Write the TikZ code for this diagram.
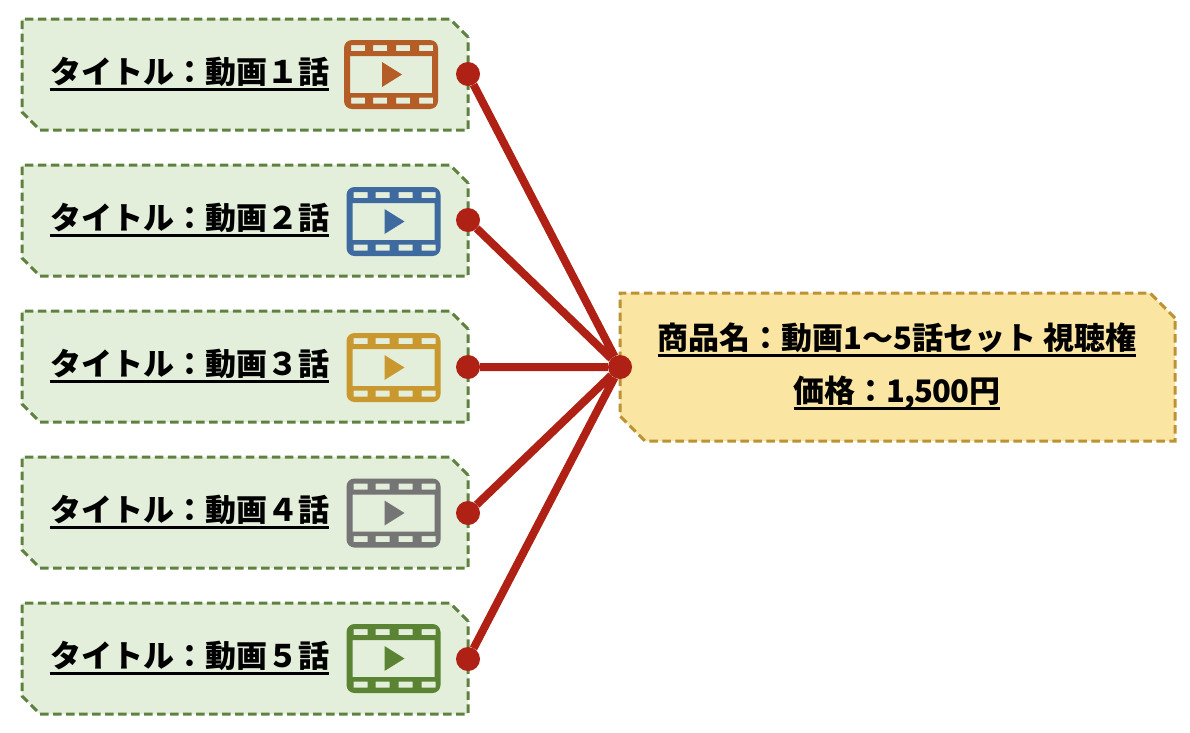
\documentclass[tikz,border=0pt]{standalone}
\usepackage{fontspec}
\setmainfont{Noto Sans CJK JP}
\usetikzlibrary{shapes.misc}
\definecolor{boxgreen}{HTML}{E3EFDA}
\definecolor{linegreen}{HTML}{5F8140}
\definecolor{boxyellow}{HTML}{FBE5A2}
\definecolor{lineyellow}{HTML}{BC9232}
\definecolor{linkred}{HTML}{AE2114}
\definecolor{iconorange}{HTML}{B55D26}
\definecolor{iconblue}{HTML}{3F6AA0}
\definecolor{icongold}{HTML}{C9982F}
\definecolor{icongray}{HTML}{757575}
\definecolor{icongreen}{HTML}{5A8334}
\newsavebox{\titlebox}
\newcommand{\titleline}[1]{\sbox{\titlebox}{#1}\rlap{\rule[-7.5pt]{\wd\titlebox}{3pt}}\usebox{\titlebox}}
\tikzset{
  videobox/.style={shape=chamfered rectangle,chamfered rectangle corners={north east,south west},
    chamfered rectangle xsep=8.5pt,chamfered rectangle ysep=9.5pt,draw=linegreen,fill=boxgreen,
    line width=3pt,dash pattern=on 8.5pt off 4.5pt,inner xsep=214.5pt,inner ysep=46pt,outer sep=0pt},
  setbox/.style={shape=chamfered rectangle,chamfered rectangle corners={north east,south west},
    chamfered rectangle xsep=13pt,chamfered rectangle ysep=12pt,draw=lineyellow,fill=boxyellow,
    line width=3pt,dash pattern=on 8.5pt off 4.5pt,inner xsep=264.5pt,inner ysep=62pt,outer sep=0pt},
  titletext/.style={anchor=base,inner sep=0pt,font=\fontsize{31}{36}\selectfont\bfseries},
  dot/.style={circle,fill=linkred,minimum size=24pt,inner sep=0pt,outer sep=0pt},
  link/.style={draw=linkred,line width=8pt},
  pics/filmicon/.style={code={
    \fill[#1,even odd rule]
      (-47,-34.5) [rounded corners=8pt] rectangle (47,34.5) [sharp corners]
      (-41,-18.5) rectangle (41,18.5)
      (-40,-29.5) rectangle (-26,-23.5) (-18,-29.5) rectangle (-4,-23.5)
      (5,-29.5) rectangle (19,-23.5) (28,-29.5) rectangle (42,-23.5)
      (-40,23) rectangle (-26,29) (-18,23) rectangle (-4,29)
      (5,23) rectangle (19,29) (28,23) rectangle (42,29);
    \fill[#1] (-9,-12.5) -- (11,0) -- (-9,12.5) -- cycle;
  }}
}
\begin{document}
\begin{tikzpicture}[x=1pt,y=-1pt]
  \useasboundingbox (0,0) rectangle (1190,732);
  \draw (245,74.5) node[videobox](v1){};
  \draw (245,220.5) node[videobox](v2){};
  \draw (245,366.5) node[videobox](v3){};
  \draw (245,512.5) node[videobox](v4){};
  \draw (245,658.5) node[videobox](v5){};
  \draw (897.5,367) node[setbox](s){};
  \draw (189.5,83) node[titletext](t1){\titleline{タイトル：動画１話}};
  \draw (189.5,229) node[titletext](t2){\titleline{タイトル：動画２話}};
  \draw (189.5,375) node[titletext](t3){\titleline{タイトル：動画３話}};
  \draw (189.5,521) node[titletext](t4){\titleline{タイトル：動画４話}};
  \draw (189.5,667) node[titletext](t5){\titleline{タイトル：動画５話}};
  \draw (897,349) node[titletext](s1){\titleline{商品名：動画1〜5話セット 視聴権}};
  \draw (897,402) node[titletext](s2){\titleline{価格：\addfontfeature{LetterSpace=-3}1,500\addfontfeature{LetterSpace=0}円}};
  \draw (391,74.5) pic{filmicon=iconorange};
  \draw (393.5,221.5) pic{filmicon=iconblue};
  \draw (393.5,367.5) pic{filmicon=icongold};
  \draw (393.5,513) pic{filmicon=icongray};
  \draw (393.5,658.5) pic{filmicon=icongreen};
  \draw (468,74) node[dot](d1){};
  \draw (468,220) node[dot](d2){};
  \draw (468,367) node[dot](d3){};
  \draw (468,513) node[dot](d4){};
  \draw (468,659) node[dot](d5){};
  \draw (620,367) node[dot](c){};
  \draw[link]
    (d1) -- (c)
    (d2) -- (c)
    (d3) -- (c)
    (d4) -- (c)
    (d5) -- (c)
  ;
\end{tikzpicture}
\end{document}
